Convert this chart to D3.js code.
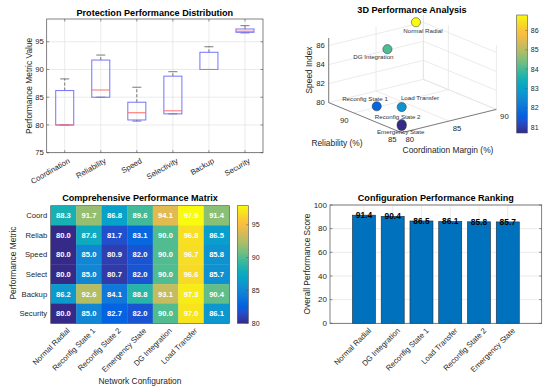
<!DOCTYPE html>
<html><head><meta charset="utf-8">
<script src="https://cdn.jsdelivr.net/npm/d3@7"></script>
<style>body{margin:0;background:#fff}svg{display:block;font-family:"Liberation Sans",Arial,Helvetica,sans-serif}</style>
</head><body><svg id="c" width="550" height="392"></svg>
<script>
// ---------------- DATA ----------------
const configs = ["Normal Radial","Reconfig State 1","Reconfig State 2","Emergency State","DG Integration","Load Transfer"];
const metrics = ["Coordination","Reliability","Speed","Selectivity","Backup","Security"];
const metricShort = ["Coord","Reliab","Speed","Select","Backup","Security"];
const coordination = [88.3,80.0,80.0,80.0,86.2,80.0];
const reliability  = [91.7,87.6,85.0,85.0,92.6,85.0];
const speed        = [86.8,81.7,80.9,80.7,84.1,82.7];
const selectivity  = [89.6,83.1,82.0,82.0,88.8,82.0];
const backup       = [94.1,90.0,90.0,90.0,93.1,90.0];
const security     = [97.9,96.8,96.7,96.6,97.3,97.0];
const overall      = [91.4,86.5,85.8,85.7,90.4,86.1];
const boxTicks = [75,80,85,90,95];
const barTicks = [0,20,40,60,80,100];
const z3Ticks = [80,82,84,86];
const x3Ticks = [80,85,90];
const y3Ticks = [85,90];
const cb3Ticks = [81,82,83,84,85,86];
const cbHeatTicks = [80,85,90,95];

// ---------------- HELPERS ----------------
const svg = d3.select("#c");
const FONT_TICK = 7.7, FONT_LAB = 8.4, FONT_TITLE = 9.1;
const TXT = "#262626", AX = "#4d4d4d", GRID = "#e2e2e2";
const parulaAnchors = [[0.2081,0.1663,0.5292],[0.1707,0.2919,0.7792],[0.0117,0.3875,0.8820],[0.0629,0.4737,0.8554],[0.0641,0.5570,0.8240],[0.0231,0.6418,0.7913],[0.0843,0.6928,0.7062],[0.2586,0.7317,0.5954],[0.4871,0.7491,0.4840],[0.6834,0.7435,0.4044],[0.8507,0.7299,0.3360],[0.9938,0.7455,0.2403],[0.9697,0.8481,0.1475],[0.9763,0.9831,0.0538]]
  .map(c => d3.rgb(c[0]*255,c[1]*255,c[2]*255));
const parula = d3.piecewise(d3.interpolateRgb, parulaAnchors);

function title(x,y,t){ svg.append("text").attr("x",x).attr("y",y).attr("text-anchor","middle").attr("font-size",FONT_TITLE).attr("font-weight","bold").attr("fill","#000").text(t); }
function ylabel(x,y,t){ svg.append("text").attr("transform",`translate(${x},${y}) rotate(-90)`).attr("text-anchor","middle").attr("font-size",FONT_LAB).attr("fill",TXT).text(t); }
function colorbar(id,x0,y0,w,h,dom,ticks){
  const g = svg.append("defs").append("linearGradient").attr("id",id).attr("x1",0).attr("y1",1).attr("x2",0).attr("y2",0);
  d3.range(0,1.0001,0.05).forEach(t=>g.append("stop").attr("offset",t).attr("stop-color",parula(t)));
  svg.append("rect").attr("x",x0).attr("y",y0).attr("width",w).attr("height",h).attr("fill",`url(#${id})`).attr("stroke",AX).attr("stroke-width",0.6);
  const s = d3.scaleLinear().domain(dom).range([y0+h,y0]);
  ticks.forEach(t=>{
    svg.append("line").attr("x1",x0+w-2).attr("x2",x0+w).attr("y1",s(t)).attr("y2",s(t)).attr("stroke",AX).attr("stroke-width",0.5);
    svg.append("text").attr("x",x0+w+3.5).attr("y",s(t)).attr("dy","0.35em").attr("font-size",FONT_TICK-0.7).attr("fill",TXT).text(t);
  });
}

// ---------------- PANEL 1: BOXPLOT ----------------
(function(){
  const L=46.7,R=263,T=19,B=152.7;
  const x = d3.scaleLinear().domain([0.5,6.5]).range([L,R]);
  const y = d3.scaleLinear().domain([75,99.1]).range([B,T]);
  const g = svg.append("g");
  boxTicks.forEach(t=>g.append("line").attr("x1",L).attr("x2",R).attr("y1",y(t)).attr("y2",y(t)).attr("stroke",GRID).attr("stroke-width",0.7));
  metrics.forEach((m,i)=>g.append("line").attr("x1",x(i+1)).attr("x2",x(i+1)).attr("y1",T).attr("y2",B).attr("stroke",GRID).attr("stroke-width",0.7));
  g.append("rect").attr("x",L).attr("y",T).attr("width",R-L).attr("height",B-T).attr("fill","none").attr("stroke",AX).attr("stroke-width",0.7);
  boxTicks.forEach(t=>{
    g.append("line").attr("x1",L).attr("x2",L+2.5).attr("y1",y(t)).attr("y2",y(t)).attr("stroke",AX).attr("stroke-width",0.6);
    g.append("line").attr("x1",R).attr("x2",R-2.5).attr("y1",y(t)).attr("y2",y(t)).attr("stroke",AX).attr("stroke-width",0.6);
    g.append("text").attr("x",L-3).attr("y",y(t)).attr("dy","0.35em").attr("text-anchor","end").attr("font-size",FONT_TICK).attr("fill",TXT).text(t);
  });
  metrics.forEach((m,i)=>{
    g.append("line").attr("x1",x(i+1)).attr("x2",x(i+1)).attr("y1",B).attr("y2",B-2.5).attr("stroke",AX).attr("stroke-width",0.6);
    g.append("line").attr("x1",x(i+1)).attr("x2",x(i+1)).attr("y1",T).attr("y2",T+2.5).attr("stroke",AX).attr("stroke-width",0.6);
    g.append("text").attr("transform",`translate(${x(i+1)+3},${B+5}) rotate(-30)`).attr("text-anchor","end").attr("dy","0.7em").attr("font-size",FONT_TICK).attr("fill",TXT).text(m);
  });
  const series = [coordination,reliability,speed,selectivity,backup,security];
  function prc(s,p){ const n=s.length; const pos=n*p/100+0.5; if(pos<=1) return s[0]; if(pos>=n) return s[n-1]; const lo=Math.floor(pos); const f=pos-lo; return s[lo-1]+(s[lo]-s[lo-1])*f; }
  series.forEach((v,i)=>{
    const s = v.slice().sort(d3.ascending);
    const q1=prc(s,25), med=prc(s,50), q3=prc(s,75), iqr=q3-q1;
    const hi = d3.max(s.filter(d=>d<=q3+1.5*iqr)), lo = d3.min(s.filter(d=>d>=q1-1.5*iqr));
    const cx=x(i+1), hw=(x(1.25)-x(1)), cw=(x(1.125)-x(1));
    g.append("line").attr("x1",cx).attr("x2",cx).attr("y1",y(q3)).attr("y2",y(hi)).attr("stroke","#555").attr("stroke-width",0.8).attr("stroke-dasharray","3,2");
    g.append("line").attr("x1",cx).attr("x2",cx).attr("y1",y(q1)).attr("y2",y(lo)).attr("stroke","#555").attr("stroke-width",0.8).attr("stroke-dasharray","3,2");
    g.append("line").attr("x1",cx-cw).attr("x2",cx+cw).attr("y1",y(hi)).attr("y2",y(hi)).attr("stroke","#555").attr("stroke-width",0.8);
    g.append("line").attr("x1",cx-cw).attr("x2",cx+cw).attr("y1",y(lo)).attr("y2",y(lo)).attr("stroke","#555").attr("stroke-width",0.8);
    g.append("rect").attr("x",cx-hw).attr("y",y(q3)).attr("width",2*hw).attr("height",y(q1)-y(q3)).attr("fill","none").attr("stroke","#7474ff").attr("stroke-width",1);
    g.append("line").attr("x1",cx-hw).attr("x2",cx+hw).attr("y1",y(med)).attr("y2",y(med)).attr("stroke","#ff6a6a").attr("stroke-width",1);
  });
  title((L+R)/2,16.3,"Protection Performance Distribution");
  ylabel(31.5,(T+B)/2,"Performance Metric Value");
})();

// ---------------- PANEL 2: 3D SCATTER ----------------
(function(){
  const F=[401.7,132.7], EX=[94.7,-23.3], EY=[-73,-30.1], EZ=[0,-64.6];
  const sx = d3.scaleLinear().domain([80,90]).range([0,1]);
  const sy = d3.scaleLinear().domain([85,92.6]).range([0,1]);
  const sz = d3.scaleLinear().domain([80,86.8]).range([0,1]);
  const P = (a,b,c)=>{ const u=sx(a),v=sy(b),w=sz(c); return [F[0]+u*EX[0]+v*EY[0]+w*EZ[0], F[1]+u*EX[1]+v*EY[1]+w*EZ[1]]; };
  const g = svg.append("g");
  const ln=(p,q,col,wd)=>g.append("line").attr("x1",p[0]).attr("y1",p[1]).attr("x2",q[0]).attr("y2",q[1]).attr("stroke",col).attr("stroke-width",wd);
  const [x0,x1]=sx.domain(), [y0,y1]=sy.domain(), [z0,z1]=sz.domain();
  // floor grid
  x3Ticks.forEach(t=>ln(P(t,y0,z0),P(t,y1,z0),GRID,0.7));
  y3Ticks.forEach(t=>ln(P(x0,t,z0),P(x1,t,z0),GRID,0.7));
  // back walls
  z3Ticks.forEach(t=>{ ln(P(x0,y1,t),P(x1,y1,t),GRID,0.7); ln(P(x1,y0,t),P(x1,y1,t),GRID,0.7); });
  x3Ticks.forEach(t=>ln(P(t,y1,z0),P(t,y1,z1),GRID,0.7));
  y3Ticks.forEach(t=>ln(P(x1,t,z0),P(x1,t,z1),GRID,0.7));
  ln(P(x1,y1,z0),P(x1,y1,z1),GRID,0.7);
  // axes lines
  ln(P(x0,y0,z0),P(x1,y0,z0),AX,0.7);
  ln(P(x0,y0,z0),P(x0,y1,z0),AX,0.7);
  ln(P(x0,y1,z0),P(x0,y1,z1),AX,0.7);
  z3Ticks.forEach(t=>{ const p=P(x0,y1,t); g.append("text").attr("x",p[0]-4).attr("y",p[1]).attr("dy","0.35em").attr("text-anchor","end").attr("font-size",FONT_TICK).attr("fill",TXT).text(t); });
  x3Ticks.forEach(t=>{ const p=P(t,y0,z0); g.append("text").attr("x",p[0]+8).attr("y",p[1]+7).attr("dy","0.35em").attr("text-anchor","middle").attr("font-size",FONT_TICK).attr("fill",TXT).text(t); });
  y3Ticks.forEach(t=>{ const p=P(x0,t,z0); g.append("text").attr("x",p[0]-9.5).attr("y",p[1]+7).attr("dy","0.35em").attr("text-anchor","middle").attr("font-size",FONT_TICK).attr("fill",TXT).text(t); });
  g.append("text").attr("x",337).attr("y",146).attr("text-anchor","middle").attr("font-size",FONT_LAB).attr("fill",TXT).text("Reliability (%)");
  g.append("text").attr("x",448).attr("y",153).attr("text-anchor","middle").attr("font-size",FONT_LAB).attr("fill",TXT).text("Coordination Margin (%)");
  ylabel(311.5,70,"Speed Index");
  const cdom=[d3.min(speed),d3.max(speed)];
  const cs = d3.scaleSequential(parula).domain(cdom);
  const labelOffsets=[[7,8.3],[-11.7,-7.7],[-4,-6.9],[-1,6.2],[-14,7.7],[18.3,-9.6]];
  configs.forEach((c,i)=>{
    const p=P(coordination[i],reliability[i],speed[i]);
    g.append("circle").attr("cx",p[0]).attr("cy",p[1]).attr("r",4.6).attr("fill",cs(speed[i])).attr("stroke","#333").attr("stroke-width",0.5);
  });
  configs.forEach((c,i)=>{
    const p=P(coordination[i],reliability[i],speed[i]);
    g.append("text").attr("x",p[0]+labelOffsets[i][0]).attr("y",p[1]+labelOffsets[i][1]).attr("dy","0.35em").attr("text-anchor","middle").attr("font-size",6.2).attr("fill","#333").text(c);
  });
  title(412,12.5,"3D Performance Analysis");
  colorbar("cb3",516.7,15,10.6,118,cdom,cb3Ticks);
})();

// ---------------- PANEL 3: HEATMAP ----------------
(function(){
  const L=50.7,R=229.3,T=205.7,B=323.3;
  const matrix = configs.map((c,i)=>[coordination[i],reliability[i],speed[i],selectivity[i],backup[i],security[i],overall[i]]);
  const x = d3.scaleBand().domain(d3.range(7)).range([L,R]);
  const y = d3.scaleBand().domain(d3.range(6)).range([T,B]);
  const all = matrix.flat();
  const dom=[d3.min(all),d3.max(all)];
  const cs = d3.scaleSequential(parula).domain(dom);
  const g = svg.append("g");
  matrix.forEach((row,r)=>row.forEach((v,c)=>{
    g.append("rect").attr("x",x(c)).attr("y",y(r)).attr("width",x.bandwidth()+0.3).attr("height",y.bandwidth()+0.3).attr("fill",cs(v));
  }));
  matrix.forEach((row,r)=>row.forEach((v,c)=>{
    g.append("text").attr("x",x(c)+x.bandwidth()/2).attr("y",y(r)+y.bandwidth()/2).attr("dy","0.36em").attr("text-anchor","middle").attr("font-size",7.6).attr("font-weight","bold").attr("fill","#fff").text(v.toFixed(1));
  }));
  g.append("rect").attr("x",L).attr("y",T).attr("width",R-L).attr("height",B-T).attr("fill","none").attr("stroke",AX).attr("stroke-width",0.6);
  metricShort.forEach((m,r)=>g.append("text").attr("x",L-3.5).attr("y",y(r)+y.bandwidth()/2).attr("dy","0.35em").attr("text-anchor","end").attr("font-size",FONT_TICK).attr("fill",TXT).text(m));
  configs.forEach((c,i)=>g.append("text").attr("transform",`translate(${x(i)+x.bandwidth()/2+3},${B+4}) rotate(-45)`).attr("dy","0.7em").attr("text-anchor","end").attr("font-size",FONT_TICK).attr("fill",TXT).text(c));
  title((L+R)/2,200.5,"Comprehensive Performance Matrix");
  ylabel(16,263,"Performance Metric");
  svg.append("text").attr("x",(L+R)/2).attr("y",384).attr("text-anchor","middle").attr("font-size",FONT_LAB).attr("fill",TXT).text("Network Configuration");
  colorbar("cbh",237.3,205.7,11,117.6,dom,cbHeatTicks);
})();

// ---------------- PANEL 4: BAR CHART ----------------
(function(){
  const L=330,R=541.7,T=205,B=323.3;
  const order = d3.range(configs.length).sort((a,b)=>overall[b]-overall[a]);
  const x = d3.scaleLinear().domain([-0.18,7.18]).range([L,R]);
  const y = d3.scaleLinear().domain([0,100]).range([B,T]);
  const g = svg.append("g");
  barTicks.forEach(t=>g.append("line").attr("x1",L).attr("x2",R).attr("y1",y(t)).attr("y2",y(t)).attr("stroke",GRID).attr("stroke-width",0.7));
  order.forEach((k,i)=>g.append("line").attr("x1",x(i+1)).attr("x2",x(i+1)).attr("y1",T).attr("y2",B).attr("stroke",GRID).attr("stroke-width",0.7));
  const bw = x(0.8)-x(0);
  order.forEach((k,i)=>{
    g.append("rect").attr("x",x(i+1)-bw/2).attr("y",y(overall[k])).attr("width",bw).attr("height",B-y(overall[k])).attr("fill","#0072BD").attr("stroke","#1a2a3a").attr("stroke-width",0.6);
  });
  g.append("rect").attr("x",L).attr("y",T).attr("width",R-L).attr("height",B-T).attr("fill","none").attr("stroke",AX).attr("stroke-width",0.7);
  barTicks.forEach(t=>{
    g.append("line").attr("x1",L).attr("x2",L+2.5).attr("y1",y(t)).attr("y2",y(t)).attr("stroke",AX).attr("stroke-width",0.6);
    g.append("line").attr("x1",R).attr("x2",R-2.5).attr("y1",y(t)).attr("y2",y(t)).attr("stroke",AX).attr("stroke-width",0.6);
    g.append("text").attr("x",L-3).attr("y",y(t)).attr("dy","0.35em").attr("text-anchor","end").attr("font-size",FONT_TICK+0.3).attr("fill",TXT).text(t);
  });
  order.forEach((k,i)=>{
    g.append("line").attr("x1",x(i+1)).attr("x2",x(i+1)).attr("y1",B).attr("y2",B-2.5).attr("stroke",AX).attr("stroke-width",0.6);
    g.append("text").attr("x",x(i+1)).attr("y",y(overall[k])+3).attr("text-anchor","middle").attr("font-size",8.4).attr("font-weight","bold").attr("fill","#000").text(overall[k].toFixed(1));
    g.append("text").attr("transform",`translate(${x(i+1)+4},${B+4}) rotate(-45)`).attr("dy","0.7em").attr("text-anchor","end").attr("font-size",FONT_TICK).attr("fill",TXT).text(configs[k]);
  });
  title((L+R)/2,201,"Configuration Performance Ranking");
  ylabel(310,264,"Overall Performance Score");
})();
</script></body></html>
